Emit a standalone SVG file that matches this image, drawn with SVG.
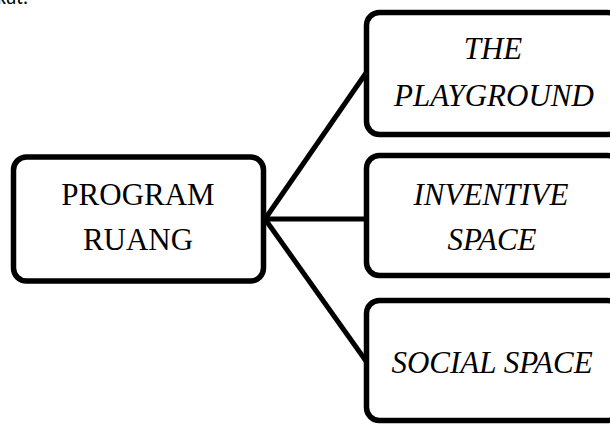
<svg xmlns="http://www.w3.org/2000/svg" width="610" height="425" viewBox="0 0 610 425">
<style>
.box{fill:#fff;stroke:#000;stroke-width:5.5}
.lbl{font-family:"Liberation Serif","Times New Roman",serif;font-size:31px;fill:#000;text-anchor:middle}
.it{font-style:italic}
.con{stroke:#000;stroke-width:5;fill:none}
</style>
<text x="-3" y="4" font-family="Carlito,'Liberation Sans',sans-serif" font-size="20" fill="#000">kut.</text>
<g id="connectors">
<line class="con" x1="265" y1="219" x2="366" y2="73"/>
<line class="con" x1="265" y1="219" x2="366" y2="219"/>
<line class="con" x1="265" y1="219" x2="366" y2="361"/>
</g>
<g id="program-ruang">
<rect class="box" x="13.5" y="157" width="250" height="124" rx="13"/>
<text class="lbl" x="138" y="205">PROGRAM</text>
<text class="lbl" x="138" y="250">RUANG</text>
</g>
<g id="the-playground">
<rect class="box" x="366.5" y="12.5" width="254" height="122" rx="13"/>
<text class="lbl it" x="493" y="59">THE</text>
<text class="lbl it" x="494" y="106">PLAYGROUND</text>
</g>
<g id="inventive-space">
<rect class="box" x="366.5" y="155.5" width="254" height="120" rx="13"/>
<text class="lbl it" x="491" y="205">INVENTIVE</text>
<text class="lbl it" x="492" y="250">SPACE</text>
</g>
<g id="social-space">
<rect class="box" x="366.5" y="300.5" width="254" height="120" rx="13"/>
<text class="lbl it" x="492" y="373">SOCIAL SPACE</text>
</g>
</svg>
